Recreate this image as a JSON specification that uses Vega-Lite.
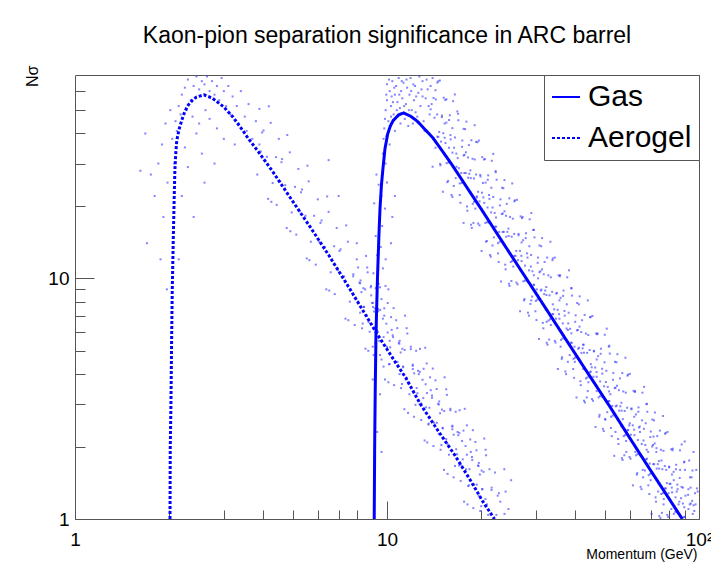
{
  "$schema": "https://vega.github.io/schema/vega-lite/v6.json",
  "width": 624,
  "height": 444,
  "autosize": "none",
  "padding": {"left": 75, "top": 75, "right": 12, "bottom": 44},
  "background": "white",
  "title": {"text": "Kaon-pion separation significance in ARC barrel", "font": "Liberation Sans", "fontSize": 23, "fontWeight": "normal", "color": "#000", "anchor": "middle", "baseline": "alphabetic", "offset": -1},
  "datasets": {
    "scatter": [
{"p":14.0,"n":29.1},{"p":14.5,"n":38.8},{"p":14.2,"n":46.5},{"p":14.1,"n":56.2},{"p":14.6,"n":65.9},{"p":14.3,"n":34.9},{"p":13.8,"n":50.4},{"p":14.3,"n":60.5},
{"p":15.1,"n":22.9},{"p":14.6,"n":38.7},{"p":15.0,"n":47.5},{"p":15.2,"n":56.3},{"p":14.8,"n":29.9},{"p":14.9,"n":37.0},{"p":14.5,"n":65.1},{"p":15.3,"n":44.0},
{"p":15.7,"n":25.4},{"p":16.0,"n":30.1},{"p":15.4,"n":36.5},{"p":15.9,"n":47.6},{"p":15.5,"n":44.4},{"p":16.1,"n":22.2},{"p":15.5,"n":55.5},{"p":15.8,"n":34.9},
{"p":16.2,"n":21.8},{"p":16.7,"n":29.1},{"p":16.4,"n":34.9},{"p":16.2,"n":42.1},{"p":16.8,"n":49.4},{"p":16.6,"n":26.1},{"p":16.0,"n":37.8},{"p":16.5,"n":58.1},
{"p":17.6,"n":17.0},{"p":17.0,"n":28.7},{"p":17.4,"n":35.2},{"p":17.6,"n":41.8},{"p":17.1,"n":22.2},{"p":17.3,"n":27.4},{"p":16.9,"n":48.3},{"p":17.7,"n":32.6},
{"p":18.1,"n":19.1},{"p":18.5,"n":22.7},{"p":17.7,"n":27.4},{"p":18.3,"n":35.8},{"p":17.9,"n":33.4},{"p":18.6,"n":16.7},{"p":17.8,"n":41.7},{"p":18.2,"n":26.2},
{"p":18.7,"n":16.2},{"p":19.4,"n":21.7},{"p":19.0,"n":26.0},{"p":18.8,"n":31.4},{"p":19.5,"n":36.8},{"p":19.2,"n":19.5},{"p":18.5,"n":28.1},{"p":19.1,"n":43.3},
{"p":20.1,"n":13.0},{"p":19.4,"n":21.9},{"p":19.9,"n":26.9},{"p":20.2,"n":31.9},{"p":19.6,"n":16.9},{"p":19.8,"n":20.9},{"p":19.3,"n":36.9},{"p":20.3,"n":24.9},
{"p":20.9,"n":14.3},{"p":21.3,"n":17.0},{"p":20.5,"n":20.6},{"p":21.1,"n":26.8},{"p":20.7,"n":25.0},{"p":21.4,"n":12.5},{"p":20.6,"n":31.3},{"p":21.0,"n":19.7},
{"p":21.5,"n":12.3},{"p":22.2,"n":16.4},{"p":21.8,"n":19.7},{"p":21.6,"n":23.8},{"p":22.3,"n":27.9},{"p":22.0,"n":14.8},{"p":21.3,"n":21.4},{"p":21.9,"n":32.9},
{"p":23.2,"n":9.7},{"p":22.4,"n":16.4},{"p":23.0,"n":20.1},{"p":23.4,"n":23.8},{"p":22.7,"n":12.7},{"p":22.9,"n":15.6},{"p":22.3,"n":27.6},{"p":23.5,"n":18.6},
{"p":24.0,"n":10.9},{"p":24.5,"n":12.9},{"p":23.5,"n":15.6},{"p":24.2,"n":20.4},{"p":23.8,"n":19.0},{"p":24.6,"n":9.5},{"p":23.6,"n":23.7},{"p":24.1,"n":14.9},
{"p":24.7,"n":9.3},{"p":25.6,"n":12.4},{"p":25.1,"n":14.9},{"p":24.8,"n":18.0},{"p":25.7,"n":21.1},{"p":25.4,"n":11.2},{"p":24.5,"n":16.1},{"p":25.2,"n":24.8},
{"p":26.7,"n":7.3},{"p":25.8,"n":12.4},{"p":26.4,"n":15.3},{"p":26.8,"n":18.1},{"p":26.0,"n":9.6},{"p":26.3,"n":11.9},{"p":25.6,"n":20.9},{"p":27.0,"n":14.1},
{"p":27.6,"n":8.2},{"p":28.2,"n":9.7},{"p":27.0,"n":11.8},{"p":27.9,"n":15.4},{"p":27.3,"n":14.4},{"p":28.3,"n":7.2},{"p":27.2,"n":18.0},{"p":27.7,"n":11.3},
{"p":28.5,"n":7.0},{"p":29.5,"n":9.4},{"p":28.9,"n":11.2},{"p":28.6,"n":13.6},{"p":29.6,"n":15.9},{"p":29.2,"n":8.4},{"p":28.2,"n":12.2},{"p":29.0,"n":18.7},
{"p":30.7,"n":5.6},{"p":29.6,"n":9.4},{"p":30.4,"n":11.6},{"p":30.8,"n":13.7},{"p":29.9,"n":7.3},{"p":30.2,"n":9.0},{"p":29.4,"n":15.9},{"p":31.0,"n":10.7},
{"p":31.7,"n":6.2},{"p":32.3,"n":7.4},{"p":31.1,"n":8.9},{"p":32.0,"n":11.7},{"p":31.4,"n":10.9},{"p":32.5,"n":5.4},{"p":31.2,"n":13.6},{"p":31.9,"n":8.6},
{"p":32.7,"n":5.3},{"p":33.9,"n":7.1},{"p":33.2,"n":8.5},{"p":32.9,"n":10.3},{"p":34.0,"n":12.1},{"p":33.5,"n":6.4},{"p":32.4,"n":9.2},{"p":33.4,"n":14.2},
{"p":35.3,"n":4.2},{"p":34.1,"n":7.1},{"p":35.0,"n":8.7},{"p":35.5,"n":10.3},{"p":34.5,"n":5.5},{"p":34.8,"n":6.8},{"p":33.9,"n":11.9},{"p":35.7,"n":8.1},
{"p":36.4,"n":4.7},{"p":37.1,"n":5.6},{"p":35.7,"n":6.8},{"p":36.8,"n":8.9},{"p":36.0,"n":8.3},{"p":37.3,"n":4.1},{"p":35.9,"n":10.3},{"p":36.6,"n":6.5},
{"p":37.5,"n":4.0},{"p":38.9,"n":5.4},{"p":38.1,"n":6.5},{"p":37.7,"n":7.8},{"p":39.1,"n":9.1},{"p":38.5,"n":4.8},{"p":37.1,"n":7.0},{"p":38.3,"n":10.8},
{"p":40.5,"n":3.2},{"p":39.1,"n":5.4},{"p":40.1,"n":6.6},{"p":40.7,"n":7.9},{"p":39.5,"n":4.2},{"p":39.9,"n":5.2},{"p":38.9,"n":9.1},{"p":40.9,"n":6.1},
{"p":41.8,"n":3.6},{"p":42.6,"n":4.2},{"p":41.0,"n":5.1},{"p":42.2,"n":6.7},{"p":41.4,"n":6.3},{"p":42.8,"n":3.1},{"p":41.2,"n":7.8},{"p":42.0,"n":4.9},
{"p":43.1,"n":3.05},{"p":44.7,"n":4.07},{"p":43.8,"n":4.9},{"p":43.4,"n":5.9},{"p":44.9,"n":6.9},{"p":44.2,"n":3.7},{"p":42.7,"n":5.3},{"p":44.0,"n":8.1},
{"p":46.6,"n":2.41},{"p":45.0,"n":4.1},{"p":46.1,"n":5.0},{"p":46.8,"n":5.9},{"p":45.4,"n":3.15},{"p":45.9,"n":3.9},{"p":44.8,"n":6.9},{"p":47.0,"n":4.6},
{"p":48.0,"n":2.71},{"p":49.0,"n":3.22},{"p":47.0,"n":3.9},{"p":48.5,"n":5.1},{"p":47.5,"n":4.75},{"p":49.2,"n":2.37},{"p":47.3,"n":5.9},{"p":48.2,"n":3.73},
{"p":49.5,"n":2.32},{"p":51.3,"n":3.09},{"p":50.3,"n":3.71},{"p":49.8,"n":4.48},{"p":51.6,"n":5.25},{"p":50.8,"n":2.78},{"p":49.0,"n":4.02},{"p":50.6,"n":6.18},
{"p":53.5,"n":1.83},{"p":51.6,"n":3.09},{"p":53.0,"n":3.79},{"p":53.8,"n":4.5},{"p":52.2,"n":2.39},{"p":52.7,"n":2.95},{"p":51.4,"n":5.2},{"p":54.0,"n":3.51},
{"p":55.2,"n":2.05},{"p":56.3,"n":2.43},{"p":54.1,"n":2.94},{"p":55.8,"n":3.84},{"p":54.6,"n":3.58},{"p":56.6,"n":1.79},{"p":54.4,"n":4.48},{"p":55.5,"n":2.82},
{"p":56.9,"n":1.76},{"p":59.0,"n":2.34},{"p":57.8,"n":2.81},{"p":57.2,"n":3.39},{"p":59.2,"n":3.98},{"p":58.4,"n":2.11},{"p":56.4,"n":3.04},{"p":58.1,"n":4.68},
{"p":61.4,"n":1.38},{"p":59.3,"n":2.34},{"p":60.8,"n":2.88},{"p":61.7,"n":3.41},{"p":59.9,"n":1.81},{"p":60.5,"n":2.24},{"p":59.0,"n":3.94},{"p":62.0,"n":2.66},
{"p":63.4,"n":1.55},{"p":64.7,"n":1.84},{"p":62.1,"n":2.23},{"p":64.0,"n":2.91},{"p":62.8,"n":2.72},{"p":65.0,"n":1.36},{"p":62.4,"n":3.4},{"p":63.7,"n":2.13},
{"p":65.4,"n":1.33},{"p":67.7,"n":1.77},{"p":66.4,"n":2.12},{"p":65.7,"n":2.57},{"p":68.1,"n":3.01},{"p":67.1,"n":1.59},{"p":64.7,"n":2.3},{"p":66.7,"n":3.54},
{"p":70.5,"n":1.05},{"p":68.1,"n":1.78},{"p":69.8,"n":2.19},{"p":70.9,"n":2.59},{"p":68.8,"n":1.38},{"p":69.5,"n":1.7},{"p":67.8,"n":3.0},{"p":71.2,"n":2.03},
{"p":72.8,"n":1.18},{"p":74.3,"n":1.4},{"p":71.3,"n":1.69},{"p":73.5,"n":2.21},{"p":72.1,"n":2.06},{"p":74.6,"n":1.03},{"p":71.7,"n":2.57},{"p":73.2,"n":1.62},
{"p":75.2,"n":1.01},{"p":77.8,"n":1.34},{"p":76.3,"n":1.61},{"p":75.5,"n":1.94},{"p":78.2,"n":2.28},{"p":77.1,"n":1.21},{"p":74.4,"n":1.74},{"p":76.7,"n":2.68},
{"p":78.3,"n":1.34},{"p":80.3,"n":1.65},{"p":81.5,"n":1.95},{"p":79.1,"n":1.04},{"p":79.9,"n":1.28},{"p":77.9,"n":2.26},{"p":81.9,"n":1.53},
{"p":85.4,"n":1.06},{"p":82.0,"n":1.29},{"p":84.5,"n":1.68},{"p":82.9,"n":1.57},{"p":82.4,"n":1.96},{"p":84.1,"n":1.23},
{"p":89.4,"n":1.02},{"p":87.6,"n":1.22},{"p":86.7,"n":1.48},{"p":89.8,"n":1.73},{"p":85.4,"n":1.33},{"p":88.0,"n":2.04},
{"p":90.0,"n":1.02},{"p":92.3,"n":1.26},{"p":93.6,"n":1.49},{"p":89.5,"n":1.72},{"p":94.1,"n":1.16},
{"p":97.1,"n":1.28},{"p":95.1,"n":1.19},{"p":94.7,"n":1.49},{"p":96.6,"n":1.08},
{"p":60.0,"n":2.5},{"p":62.5,"n":1.9},{"p":64.2,"n":2.4},{"p":66.0,"n":1.6},{"p":67.5,"n":2.5},{"p":68.7,"n":1.9},{"p":70.0,"n":1.45},{"p":71.5,"n":2.2},{"p":73.0,"n":1.9},{"p":74.0,"n":1.3},
{"p":75.8,"n":1.75},{"p":77.0,"n":1.15},{"p":78.5,"n":1.6},{"p":80.5,"n":1.4},{"p":81.5,"n":1.1},{"p":83.0,"n":1.45},{"p":84.8,"n":1.3},{"p":86.0,"n":1.15},{"p":87.0,"n":1.6},{"p":88.8,"n":1.35},
{"p":90.5,"n":1.25},{"p":92.5,"n":1.1},{"p":94.0,"n":1.35},{"p":95.5,"n":1.05},{"p":97.5,"n":1.15},{"p":99.0,"n":1.3},{"p":98.0,"n":1.6},{"p":96.0,"n":1.9},{"p":93.0,"n":1.75},{"p":90.0,"n":2.1},
{"p":57.0,"n":2.6},{"p":58.5,"n":1.9},{"p":54.0,"n":2.3},{"p":52.0,"n":3.3},{"p":50.0,"n":2.6},{"p":47.0,"n":3.4},{"p":45.0,"n":4.4},{"p":44.0,"n":3.4},{"p":42.5,"n":5.3},{"p":40.0,"n":4.5},
{"p":38.0,"n":6.1},{"p":36.0,"n":5.2},{"p":34.0,"n":7.8},{"p":32.5,"n":6.6},{"p":30.5,"n":10.0},{"p":29.0,"n":8.1},
{"p":14.7,"n":40.6},{"p":14.33,"n":55.4},{"p":14.84,"n":29.5},{"p":14.48,"n":48.0},{"p":14.77,"n":66.4},{"p":14.26,"n":36.9},
{"p":15.15,"n":40.1},{"p":15.53,"n":30.1},{"p":15.38,"n":55.1},{"p":14.99,"n":46.8},{"p":15.61,"n":25.1},{"p":15.3,"n":38.4},
{"p":16.21,"n":33.3},{"p":15.81,"n":45.5},{"p":16.37,"n":24.2},{"p":15.97,"n":39.4},{"p":16.29,"n":54.5},{"p":15.73,"n":30.3},
{"p":16.68,"n":33.0},{"p":17.1,"n":24.8},{"p":16.93,"n":45.4},{"p":16.51,"n":38.5},{"p":17.19,"n":20.6},{"p":16.85,"n":31.6},
{"p":17.88,"n":27.4},{"p":17.43,"n":37.4},{"p":18.05,"n":19.9},{"p":17.61,"n":32.4},{"p":17.97,"n":44.8},{"p":17.35,"n":24.9},
{"p":18.36,"n":27.2},{"p":18.83,"n":20.4},{"p":18.64,"n":37.5},{"p":18.18,"n":31.8},{"p":18.92,"n":17.0},{"p":18.55,"n":26.1},
{"p":19.59,"n":22.9},{"p":19.11,"n":31.2},{"p":19.79,"n":16.6},{"p":19.3,"n":27.0},{"p":19.69,"n":37.4},{"p":19.01,"n":20.8},
{"p":20.15,"n":22.7},{"p":20.66,"n":17.0},{"p":20.45,"n":31.2},{"p":19.94,"n":26.5},{"p":20.76,"n":14.2},{"p":20.35,"n":21.7},
{"p":21.56,"n":18.8},{"p":21.03,"n":25.7},{"p":21.78,"n":13.7},{"p":21.24,"n":22.2},{"p":21.67,"n":30.8},{"p":20.92,"n":17.1},
{"p":22.13,"n":18.7},{"p":22.69,"n":14.0},{"p":22.46,"n":25.7},{"p":21.9,"n":21.8},{"p":22.8,"n":11.7},{"p":22.35,"n":17.9},
{"p":23.68,"n":15.6},{"p":23.1,"n":21.3},{"p":23.92,"n":11.4},{"p":23.33,"n":18.5},{"p":23.8,"n":25.6},{"p":22.98,"n":14.2},
{"p":24.3,"n":15.6},{"p":24.92,"n":11.7},{"p":24.67,"n":21.5},{"p":24.06,"n":18.2},{"p":25.04,"n":9.75},{"p":24.55,"n":15.0},
{"p":25.96,"n":13.0},{"p":25.31,"n":17.7},{"p":26.21,"n":9.44},{"p":25.57,"n":15.3},{"p":26.09,"n":21.2},{"p":25.19,"n":11.8},
{"p":26.68,"n":13.0},{"p":27.35,"n":9.72},{"p":27.08,"n":17.8},{"p":26.41,"n":15.1},{"p":27.49,"n":8.1},{"p":26.95,"n":12.4},
{"p":28.53,"n":10.8},{"p":27.83,"n":14.7},{"p":28.82,"n":7.83},{"p":28.11,"n":12.7},{"p":28.67,"n":17.6},{"p":27.69,"n":9.79},
{"p":29.25,"n":10.7},{"p":29.99,"n":8.06},{"p":29.7,"n":14.8},{"p":28.96,"n":12.5},{"p":30.14,"n":6.71},{"p":29.55,"n":10.3},
{"p":31.26,"n":8.98},{"p":30.49,"n":12.2},{"p":31.57,"n":6.53},{"p":30.8,"n":10.6},{"p":31.41,"n":14.7},{"p":30.33,"n":8.16},
{"p":32.13,"n":8.9},{"p":32.94,"n":6.68},{"p":32.61,"n":12.2},{"p":31.8,"n":10.4},{"p":33.1,"n":5.57},{"p":32.45,"n":8.53},
{"p":34.34,"n":7.44},{"p":33.49,"n":10.1},{"p":34.68,"n":5.41},{"p":33.83,"n":8.79},{"p":34.51,"n":12.2},{"p":33.32,"n":6.76},
{"p":35.24,"n":7.4},{"p":36.13,"n":5.55},{"p":35.78,"n":10.2},{"p":34.89,"n":8.64},{"p":36.31,"n":4.63},{"p":35.6,"n":7.1},
{"p":37.62,"n":6.19},{"p":36.69,"n":8.45},{"p":38.0,"n":4.5},{"p":37.06,"n":7.32},{"p":37.81,"n":10.1},{"p":36.51,"n":5.63},
{"p":38.61,"n":6.17},{"p":39.59,"n":4.63},{"p":39.2,"n":8.48},{"p":38.22,"n":7.2},{"p":39.78,"n":3.86},{"p":39.0,"n":5.91},
{"p":41.26,"n":5.15},{"p":40.24,"n":7.02},{"p":41.67,"n":3.74},{"p":40.65,"n":6.08},{"p":41.46,"n":8.42},{"p":40.03,"n":4.68},
{"p":42.37,"n":5.12},{"p":43.44,"n":3.84},{"p":43.01,"n":7.05},{"p":41.94,"n":5.98},{"p":43.66,"n":3.2},{"p":42.8,"n":4.91},
{"p":45.3,"n":4.27},{"p":44.18,"n":5.82},{"p":45.75,"n":3.1},{"p":44.63,"n":5.04},{"p":45.52,"n":6.98},{"p":43.95,"n":3.88},
{"p":46.48,"n":4.26},{"p":47.65,"n":3.2},{"p":47.18,"n":5.86},{"p":46.01,"n":4.97},{"p":47.89,"n":2.66},{"p":46.95,"n":4.08},
{"p":49.64,"n":3.56},{"p":48.41,"n":4.86},{"p":50.13,"n":2.59},{"p":48.9,"n":4.21},{"p":49.89,"n":5.83},{"p":48.17,"n":3.24},
{"p":50.99,"n":3.54},{"p":52.27,"n":2.66},{"p":51.76,"n":4.87},{"p":50.47,"n":4.13},{"p":52.53,"n":2.21},{"p":51.5,"n":3.39},
{"p":54.49,"n":2.96},{"p":53.14,"n":4.04},{"p":55.03,"n":2.15},{"p":53.68,"n":3.5},{"p":54.76,"n":4.84},{"p":52.87,"n":2.69},
{"p":55.94,"n":2.94},{"p":57.35,"n":2.21},{"p":56.78,"n":4.04},{"p":55.37,"n":3.43},{"p":57.63,"n":1.84},{"p":56.5,"n":2.82},
{"p":59.74,"n":2.45},{"p":58.26,"n":3.35},{"p":60.33,"n":1.78},{"p":58.85,"n":2.9},{"p":60.04,"n":4.01},{"p":57.97,"n":2.23},
{"p":61.33,"n":2.45},{"p":62.88,"n":1.84},{"p":62.26,"n":3.37},{"p":60.71,"n":2.86},{"p":63.19,"n":1.53},{"p":61.95,"n":2.35},
{"p":65.55,"n":2.05},{"p":63.93,"n":2.79},{"p":66.2,"n":1.49},{"p":64.58,"n":2.42},{"p":65.87,"n":3.35},{"p":63.6,"n":1.86},
{"p":67.27,"n":2.03},{"p":68.97,"n":1.52},{"p":68.29,"n":2.79},{"p":66.59,"n":2.37},{"p":69.31,"n":1.27},{"p":67.95,"n":1.94},
{"p":71.86,"n":1.69},{"p":70.08,"n":2.31},{"p":72.57,"n":1.23},{"p":70.79,"n":2.0},{"p":72.22,"n":2.77},{"p":69.73,"n":1.54},
{"p":73.8,"n":1.69},{"p":75.67,"n":1.27},{"p":74.92,"n":2.33},{"p":73.06,"n":1.97},{"p":76.04,"n":1.06},{"p":74.55,"n":1.62},
{"p":78.88,"n":1.41},{"p":76.93,"n":1.92},{"p":79.66,"n":1.02},{"p":77.71,"n":1.66},{"p":79.27,"n":2.3},{"p":76.54,"n":1.28},
{"p":80.98,"n":1.4},{"p":83.03,"n":1.05},{"p":82.21,"n":1.93},{"p":80.16,"n":1.64},{"p":81.8,"n":1.35},
{"p":86.51,"n":1.18},{"p":84.37,"n":1.61},{"p":85.22,"n":1.39},{"p":86.93,"n":1.93},{"p":83.94,"n":1.07},
{"p":88.8,"n":1.16},{"p":90.15,"n":1.6},{"p":87.91,"n":1.36},{"p":89.7,"n":1.12},
{"p":92.49,"n":1.33},{"p":93.43,"n":1.15},{"p":95.31,"n":1.59},{"p":98.49,"n":1.34},{"p":96.04,"n":1.14},
{"p":9.7,"n":33},{"p":9.8,"n":42},{"p":9.9,"n":50},{"p":9.75,"n":38},{"p":10.0,"n":55},{"p":10.1,"n":45},{"p":10.2,"n":60},{"p":10.3,"n":52},{"p":10.4,"n":66},{"p":10.5,"n":48},
{"p":10.6,"n":58},{"p":10.7,"n":63},{"p":10.8,"n":54},{"p":10.9,"n":68},{"p":11.0,"n":51},{"p":11.1,"n":60},{"p":11.2,"n":56},{"p":11.3,"n":65},{"p":11.5,"n":53},{"p":11.6,"n":62},
{"p":11.8,"n":58},{"p":11.9,"n":68},{"p":12.0,"n":50},{"p":12.2,"n":55},{"p":12.3,"n":63},{"p":12.5,"n":47},{"p":12.6,"n":59},{"p":12.8,"n":52},{"p":13.0,"n":66},{"p":13.1,"n":45},
{"p":13.3,"n":56},{"p":13.5,"n":61},{"p":13.7,"n":48},{"p":13.9,"n":53},{"p":12.1,"n":44},{"p":11.4,"n":46},{"p":10.6,"n":41},{"p":10.2,"n":36},{"p":9.9,"n":30},{"p":9.65,"n":27},
{"p":12.7,"n":69},{"p":11.7,"n":43},{"p":13.2,"n":41},{"p":10.0,"n":64},{"p":10.8,"n":47},
{"p":9.95,"n":58},{"p":10.15,"n":67},{"p":10.35,"n":57},{"p":10.55,"n":62},{"p":10.75,"n":50},{"p":10.95,"n":58},{"p":11.15,"n":66},{"p":11.35,"n":52},{"p":11.55,"n":67},{"p":11.75,"n":50},
{"p":11.95,"n":60},{"p":12.15,"n":64},{"p":12.4,"n":57},{"p":12.9,"n":61},{"p":13.4,"n":67},{"p":13.6,"n":52},{"p":13.8,"n":63},{"p":14.0,"n":68},{"p":12.35,"n":49},{"p":11.05,"n":44},
{"p":10.45,"n":54},{"p":9.85,"n":46},{"p":9.95,"n":39},{"p":10.3,"n":47},{"p":13.0,"n":57},
{"p":9.0,"n":5.2},{"p":9.35,"n":6.0},{"p":9.5,"n":4.8},{"p":9.15,"n":7.5},{"p":9.6,"n":8.2},{"p":9.4,"n":9.5},{"p":9.05,"n":10.5},{"p":9.7,"n":11.0},{"p":9.3,"n":12.5},{"p":9.55,"n":13.5},
{"p":9.9,"n":12.0},{"p":9.2,"n":15.0},{"p":9.65,"n":16.5},{"p":9.45,"n":18.0},{"p":9.85,"n":19.5},{"p":9.1,"n":20.5},{"p":9.6,"n":22.0},{"p":9.4,"n":24.5},{"p":10.0,"n":25.0},{"p":9.25,"n":27.0},
{"p":9.8,"n":7.0},{"p":10.1,"n":9.0},{"p":10.3,"n":14.0},{"p":9.0,"n":3.8},{"p":9.5,"n":3.3},{"p":9.75,"n":4.3},{"p":10.2,"n":5.5},{"p":8.9,"n":8.5},{"p":9.3,"n":2.3},{"p":9.6,"n":1.9},
{"p":10.4,"n":18.0},{"p":10.6,"n":22.0},{"p":7.0,"n":22},{"p":8.0,"n":14},{"p":6.5,"n":31},
{"p":3.84,"n":27.0},{"p":3.98,"n":40.4},{"p":3.9,"n":50.6},{"p":3.94,"n":33.7},
{"p":4.16,"n":21.4},{"p":4.02,"n":41.2},{"p":4.12,"n":32.0},{"p":4.18,"n":51.9},
{"p":4.3,"n":24.9},{"p":4.41,"n":31.9},{"p":4.24,"n":44.3},{"p":4.26,"n":20.8},
{"p":4.43,"n":20.2},{"p":4.59,"n":30.4},{"p":4.5,"n":38.0},{"p":4.55,"n":25.3},
{"p":4.77,"n":16.2},{"p":4.61,"n":31.3},{"p":4.72,"n":24.4},{"p":4.79,"n":39.4},
{"p":4.95,"n":18.8},{"p":5.07,"n":24.0},{"p":4.88,"n":33.4},{"p":4.9,"n":15.7},
{"p":5.12,"n":15.2},{"p":5.3,"n":22.8},{"p":5.2,"n":28.5},{"p":5.25,"n":19.0},
{"p":5.53,"n":12.1},{"p":5.34,"n":23.4},{"p":5.48,"n":18.2},{"p":5.56,"n":29.4},
{"p":5.7,"n":14.2},{"p":5.84,"n":18.2},{"p":5.61,"n":25.3},{"p":5.64,"n":11.9},
{"p":5.91,"n":11.4},{"p":6.12,"n":17.0},{"p":6.0,"n":21.3},{"p":6.06,"n":14.2},
{"p":6.39,"n":9.0},{"p":6.17,"n":17.4},{"p":6.33,"n":13.5},{"p":6.43,"n":21.9},
{"p":6.6,"n":10.6},{"p":6.77,"n":13.6},{"p":6.5,"n":18.9},{"p":6.53,"n":8.9},
{"p":6.8,"n":8.6},{"p":7.04,"n":13.0},{"p":6.9,"n":16.2},{"p":6.97,"n":10.8},
{"p":7.36,"n":6.8},{"p":7.1,"n":13.2},{"p":7.29,"n":10.2},{"p":7.4,"n":16.6},
{"p":7.6,"n":8.0},{"p":7.79,"n":10.2},{"p":7.49,"n":14.2},{"p":7.52,"n":6.7},
{"p":7.88,"n":6.4},{"p":8.16,"n":9.6},{"p":8.0,"n":12.0},{"p":8.08,"n":8.0},{"p":7.8,"n":10.4},{"p":8.2,"n":7.2},
{"p":8.53,"n":5.1},{"p":8.23,"n":9.8},{"p":8.44,"n":7.6},{"p":8.57,"n":12.4},{"p":8.32,"n":6.2},{"p":8.4,"n":9.1},
{"p":8.8,"n":6.0},{"p":9.02,"n":7.6},{"p":8.67,"n":10.6},{"p":8.71,"n":5.0},{"p":8.89,"n":9.3},{"p":8.62,"n":7.0},
{"p":9.06,"n":4.8},{"p":9.38,"n":7.3},{"p":9.2,"n":9.1},{"p":9.29,"n":6.1},{"p":8.97,"n":7.9},{"p":9.43,"n":5.5},
{"p":9.85,"n":3.8},{"p":9.51,"n":7.4},{"p":9.75,"n":5.7},{"p":9.89,"n":9.3},{"p":9.6,"n":4.6},{"p":9.7,"n":6.8},
{"p":10.2,"n":4.4},{"p":10.46,"n":5.7},{"p":10.05,"n":7.9},{"p":10.1,"n":3.7},{"p":10.3,"n":6.9},{"p":10.0,"n":5.2},
{"p":10.54,"n":3.6},{"p":10.91,"n":5.4},{"p":10.7,"n":6.7},{"p":10.81,"n":4.5},{"p":10.43,"n":5.8},{"p":10.97,"n":4.0},
{"p":11.37,"n":2.86},{"p":10.98,"n":5.5},{"p":11.26,"n":4.3},{"p":11.42,"n":7.0},{"p":11.09,"n":3.5},{"p":11.2,"n":5.1},
{"p":11.8,"n":3.3},{"p":12.1,"n":4.2},{"p":11.62,"n":5.9},{"p":11.68,"n":2.76},{"p":11.92,"n":5.2},{"p":11.56,"n":3.86},
{"p":12.21,"n":2.66},{"p":12.65,"n":4.0},{"p":12.4,"n":5.0},{"p":12.52,"n":3.33},{"p":12.09,"n":4.33},{"p":12.71,"n":3.0},
{"p":13.2,"n":2.12},{"p":12.74,"n":4.09},{"p":13.07,"n":3.18},{"p":13.26,"n":5.15},{"p":12.87,"n":2.58},{"p":13.0,"n":3.79},
{"p":13.6,"n":2.49},{"p":13.94,"n":3.19},{"p":13.4,"n":4.43},{"p":13.46,"n":2.08},{"p":13.74,"n":3.88},{"p":13.33,"n":2.91},
{"p":14.09,"n":2.01},{"p":14.59,"n":3.01},{"p":14.3,"n":3.77},{"p":14.44,"n":2.51},{"p":13.94,"n":3.26},{"p":14.66,"n":2.26},
{"p":15.23,"n":1.6},{"p":14.7,"n":3.08},{"p":15.08,"n":2.39},{"p":15.3,"n":3.88},{"p":14.85,"n":1.94},{"p":15.0,"n":2.85},
{"p":15.8,"n":1.85},{"p":16.2,"n":2.36},{"p":15.56,"n":3.28},{"p":15.64,"n":1.54},{"p":15.96,"n":2.87},{"p":15.48,"n":2.15},
{"p":16.35,"n":1.49},{"p":16.93,"n":2.23},{"p":16.6,"n":2.79},{"p":16.77,"n":1.86},{"p":16.19,"n":2.42},{"p":17.02,"n":1.67},
{"p":17.66,"n":1.18},{"p":17.05,"n":2.28},{"p":17.49,"n":1.77},{"p":17.75,"n":2.87},{"p":17.23,"n":1.44},{"p":17.4,"n":2.11},
{"p":18.3,"n":1.38},{"p":18.76,"n":1.76},{"p":18.03,"n":2.45},{"p":18.12,"n":1.15},{"p":18.48,"n":2.14},{"p":17.93,"n":1.61},
{"p":18.91,"n":1.11},{"p":19.58,"n":1.67},{"p":19.2,"n":2.09},{"p":19.39,"n":1.39},{"p":18.72,"n":1.81},{"p":19.68,"n":1.25},
{"p":19.7,"n":1.71},{"p":20.2,"n":1.33},{"p":20.5,"n":2.16},{"p":19.9,"n":1.08},{"p":20.1,"n":1.59},
{"p":21.1,"n":1.04},{"p":21.63,"n":1.32},{"p":20.78,"n":1.84},{"p":21.31,"n":1.61},{"p":20.68,"n":1.21},
{"p":22.64,"n":1.25},{"p":22.2,"n":1.56},{"p":22.42,"n":1.04},{"p":21.65,"n":1.35},
{"p":22.83,"n":1.28},{"p":23.77,"n":1.61},{"p":23.07,"n":1.18},
{"p":24.0,"n":1.3},{"p":24.5,"n":1.1},{"p":25.0,"n":1.45},{"p":23.8,"n":1.05},
{"p":8.28,"n":8.77},{"p":8.08,"n":11.1},{"p":8.36,"n":6.49},{"p":8.2,"n":9.54},
{"p":8.51,"n":9.0},{"p":8.73,"n":6.58},{"p":8.64,"n":11.1},{"p":8.43,"n":7.62},
{"p":9.09,"n":7.28},{"p":8.87,"n":9.18},{"p":9.18,"n":5.38},{"p":9.0,"n":7.91},
{"p":9.36,"n":7.46},{"p":9.59,"n":5.45},{"p":9.5,"n":9.18},{"p":9.26,"n":6.31},
{"p":10.05,"n":5.96},{"p":9.8,"n":7.51},{"p":10.15,"n":4.4},{"p":9.95,"n":6.48},
{"p":10.35,"n":6.11},{"p":10.61,"n":4.47},{"p":10.5,"n":7.52},{"p":10.24,"n":5.17},
{"p":11.06,"n":4.92},{"p":10.79,"n":6.21},{"p":11.17,"n":3.64},{"p":10.95,"n":5.35},
{"p":11.39,"n":5.04},{"p":11.67,"n":3.69},{"p":11.56,"n":6.21},{"p":11.27,"n":4.27},
{"p":12.22,"n":4.03},{"p":11.92,"n":5.08},{"p":12.34,"n":2.98},{"p":12.1,"n":4.38},
{"p":12.57,"n":4.13},{"p":12.89,"n":3.02},{"p":12.76,"n":5.09},{"p":12.45,"n":3.5},
{"p":13.43,"n":3.34},{"p":13.1,"n":4.21},{"p":13.57,"n":2.47},{"p":13.3,"n":3.63},
{"p":13.81,"n":3.43},{"p":14.16,"n":2.51},{"p":14.02,"n":4.22},{"p":13.67,"n":2.9},
{"p":14.8,"n":2.75},{"p":14.43,"n":3.47},{"p":14.94,"n":2.03},{"p":14.65,"n":2.99},
{"p":15.25,"n":2.81},{"p":15.63,"n":2.05},{"p":15.48,"n":3.46},{"p":15.09,"n":2.38},
{"p":16.36,"n":2.24},{"p":15.96,"n":2.83},{"p":16.52,"n":1.66},{"p":16.2,"n":2.44},
{"p":16.83,"n":2.3},{"p":17.26,"n":1.68},{"p":17.09,"n":2.83},{"p":16.66,"n":1.95},
{"p":18.03,"n":1.85},{"p":17.58,"n":2.33},{"p":18.21,"n":1.37},{"p":17.85,"n":2.01},
{"p":18.56,"n":1.9},{"p":19.03,"n":1.39},{"p":18.84,"n":2.34},{"p":18.38,"n":1.61},
{"p":19.85,"n":1.53},{"p":19.35,"n":1.93},{"p":20.04,"n":1.13},{"p":19.65,"n":1.66},
{"p":20.39,"n":1.57},{"p":20.91,"n":1.15},{"p":20.7,"n":1.94},{"p":20.19,"n":1.33},
{"p":2.1,"n":45},{"p":2.15,"n":52},{"p":2.2,"n":58},{"p":2.25,"n":62},{"p":2.3,"n":67},{"p":2.35,"n":55},{"p":2.4,"n":63},{"p":2.45,"n":69},{"p":2.5,"n":61},{"p":2.55,"n":66},
{"p":2.6,"n":64},{"p":2.65,"n":69},{"p":2.7,"n":60},{"p":2.75,"n":66},{"p":2.8,"n":58},{"p":2.85,"n":63},{"p":2.9,"n":55},{"p":2.95,"n":68},{"p":3.0,"n":60},{"p":3.05,"n":52},
{"p":3.1,"n":63},{"p":3.15,"n":48},{"p":3.2,"n":57},{"p":3.3,"n":52},{"p":3.35,"n":44},{"p":3.4,"n":60},{"p":3.5,"n":47},{"p":3.55,"n":41},{"p":3.6,"n":53},{"p":3.7,"n":38},
{"p":3.8,"n":45},{"p":3.9,"n":36},{"p":2.05,"n":38},{"p":2.08,"n":30},{"p":2.12,"n":41},{"p":2.18,"n":48},{"p":2.28,"n":50},{"p":2.38,"n":47},{"p":2.5,"n":44},{"p":2.62,"n":50},
{"p":2.25,"n":35},{"p":2.45,"n":40},{"p":2.7,"n":46},{"p":2.85,"n":42},{"p":3.0,"n":38},{"p":3.25,"n":36},{"p":2.02,"n":50},{"p":1.95,"n":44},{"p":1.9,"n":36},{"p":1.85,"n":30},
{"p":1.98,"n":25},{"p":1.8,"n":22},{"p":1.92,"n":18},{"p":1.88,"n":12},{"p":1.97,"n":9},{"p":1.75,"n":27},{"p":2.3,"n":29},{"p":2.55,"n":33},{"p":2.2,"n":22},{"p":2.4,"n":18},
{"p":2.15,"n":12},{"p":2.6,"n":25},{"p":2.8,"n":30},{"p":1.62,"n":28},{"p":1.7,"n":14},{"p":1.68,"n":40}
    ],
    "curves": [
{"series":"Gas","p":9.10,"n":1.0},{"series":"Gas","p":9.13,"n":2.0},{"series":"Gas","p":9.17,"n":3.5},{"series":"Gas","p":9.22,"n":5.9},{"series":"Gas","p":9.32,"n":10},
{"series":"Gas","p":9.42,"n":15},{"series":"Gas","p":9.50,"n":19.7},{"series":"Gas","p":9.60,"n":24.5},{"series":"Gas","p":9.69,"n":28},{"series":"Gas","p":9.85,"n":34.5},
{"series":"Gas","p":10.05,"n":39.8},{"series":"Gas","p":10.25,"n":43},{"series":"Gas","p":10.47,"n":45.3},{"series":"Gas","p":10.9,"n":47.8},{"series":"Gas","p":11.3,"n":48.7},
{"series":"Gas","p":11.9,"n":47.2},{"series":"Gas","p":12.5,"n":45},{"series":"Gas","p":13.07,"n":42.3},{"series":"Gas","p":14.0,"n":38.5},{"series":"Gas","p":15.0,"n":34.0},
{"series":"Gas","p":16.0,"n":30.2},{"series":"Gas","p":17.14,"n":26.4},{"series":"Gas","p":18.5,"n":22.7},{"series":"Gas","p":20,"n":19.5},{"series":"Gas","p":22,"n":16.1},
{"series":"Gas","p":24.2,"n":13.3},{"series":"Gas","p":27,"n":10.7},{"series":"Gas","p":30,"n":8.68},{"series":"Gas","p":35.8,"n":6.1},{"series":"Gas","p":43,"n":4.23},
{"series":"Gas","p":51.9,"n":2.92},{"series":"Gas","p":60,"n":2.17},{"series":"Gas","p":70,"n":1.59},{"series":"Gas","p":80,"n":1.22},{"series":"Gas","p":88.4,"n":1.0},
{"series":"Aerogel","p":2.016,"n":1.0},{"series":"Aerogel","p":2.02,"n":2.0},{"series":"Aerogel","p":2.03,"n":3.0},{"series":"Aerogel","p":2.04,"n":5.5},{"series":"Aerogel","p":2.05,"n":9},
{"series":"Aerogel","p":2.066,"n":14.9},{"series":"Aerogel","p":2.08,"n":22},{"series":"Aerogel","p":2.09,"n":28.2},{"series":"Aerogel","p":2.105,"n":33.5},{"series":"Aerogel","p":2.12,"n":37.6},
{"series":"Aerogel","p":2.16,"n":42},{"series":"Aerogel","p":2.20,"n":45.5},{"series":"Aerogel","p":2.25,"n":49.5},{"series":"Aerogel","p":2.31,"n":52.6},{"series":"Aerogel","p":2.38,"n":55},
{"series":"Aerogel","p":2.45,"n":56.7},{"series":"Aerogel","p":2.59,"n":57.9},{"series":"Aerogel","p":2.75,"n":56.2},{"series":"Aerogel","p":2.99,"n":51.7},{"series":"Aerogel","p":3.2,"n":47},
{"series":"Aerogel","p":3.38,"n":42.7},{"series":"Aerogel","p":3.6,"n":38},{"series":"Aerogel","p":3.87,"n":33.6},{"series":"Aerogel","p":4.3,"n":27.8},{"series":"Aerogel","p":4.95,"n":21.2},
{"series":"Aerogel","p":5.7,"n":16.2},{"series":"Aerogel","p":6.5,"n":12.5},{"series":"Aerogel","p":7.5,"n":9.3},{"series":"Aerogel","p":8.4,"n":7.3},{"series":"Aerogel","p":9.27,"n":5.91},
{"series":"Aerogel","p":10.5,"n":4.6},{"series":"Aerogel","p":11.5,"n":3.85},{"series":"Aerogel","p":12.76,"n":3.02},{"series":"Aerogel","p":14.5,"n":2.35},{"series":"Aerogel","p":16.5,"n":1.84},
{"series":"Aerogel","p":18.5,"n":1.45},{"series":"Aerogel","p":20.3,"n":1.18},{"series":"Aerogel","p":22.1,"n":1.0}
    ]
  },
  "layer": [
    {
      "data": {"name": "scatter"},
      "mark": {"type": "square", "size": 4, "color": "#3030ff", "opacity": 0.6, "clip": true},
      "encoding": {
        "x": {"field": "p", "type": "quantitative", "scale": {"type": "log", "domain": [1, 100], "nice": false},
              "axis": {"orient": "bottom", "values": [2,3,4,5,6,7,8,9,20,30,40,50,60,70,80,90], "labels": false, "tickSize": -9, "domain": false, "grid": false, "title": null}},
        "y": {"field": "n", "type": "quantitative", "scale": {"type": "log", "domain": [1, 70], "nice": false},
              "axis": {"orient": "left", "values": [2,3,4,5,6,7,8,9,20,30,40,50,60], "labels": false, "tickSize": -10, "domain": false, "grid": false, "title": null}}
      }
    },
    {
      "data": {"name": "curves"},
      "mark": {"type": "line", "strokeWidth": 3, "clip": true},
      "encoding": {
        "x": {"field": "p", "type": "quantitative",
              "axis": {"orient": "bottom", "values": [1, 10, 100], "tickSize": -18, "labelPadding": 29, "labelFlush": false, "labelFontSize": 19,
                       "labelExpr": "datum.value == 100 ? '10²' : datum.label", "domain": false, "grid": false,
                       "title": "Momentum (GeV)", "titleFontSize": 14, "titleAnchor": "end", "titleAlign": "right", "titleBaseline": "alphabetic", "titleX": 622, "titleY": 39}},
        "y": {"field": "n", "type": "quantitative",
              "axis": {"orient": "left", "values": [1, 10], "tickSize": -19, "labelPadding": 25, "labelFontSize": 19, "domain": false, "grid": false,
                       "title": "Nσ", "titleFontSize": 16, "titleAngle": -90, "titleAlign": "right", "titleBaseline": "middle", "titleX": -43, "titleY": -10}},
        "color": {"field": "series", "type": "nominal", "scale": {"domain": ["Gas", "Aerogel"], "range": ["#0000ff", "#0000ff"]}, "legend": {"title": null}},
        "strokeDash": {"field": "series", "type": "nominal", "scale": {"domain": ["Gas", "Aerogel"], "range": [[1, 0], [3, 2]]}, "legend": {"title": null}}
      }
    },
    {
      "mark": {"type": "rule", "color": "#333", "strokeDash": [2, 2], "strokeWidth": 1.2},
      "encoding": {"y": {"datum": 3, "type": "quantitative", "axis": null}}
    }
  ],
  "resolve": {"axis": {"x": "independent", "y": "independent"}},
  "config": {
    "view": {"stroke": "#555", "strokeWidth": 1},
    "axis": {"labelFont": "Liberation Sans", "titleFont": "Liberation Sans", "tickColor": "#555", "tickWidth": 1, "labelColor": "#000", "titleColor": "#000", "titleFontWeight": "normal"},
    "legend": {"orient": "top-right", "offset": 0, "padding": 7, "fillColor": "white", "strokeColor": "#555", "labelFont": "Liberation Sans", "labelFontSize": 30, "labelColor": "#000",
               "symbolType": "stroke", "symbolSize": 784, "symbolStrokeWidth": 2, "labelOffset": 7, "rowPadding": 11, "cornerRadius": 0}
  }
}
